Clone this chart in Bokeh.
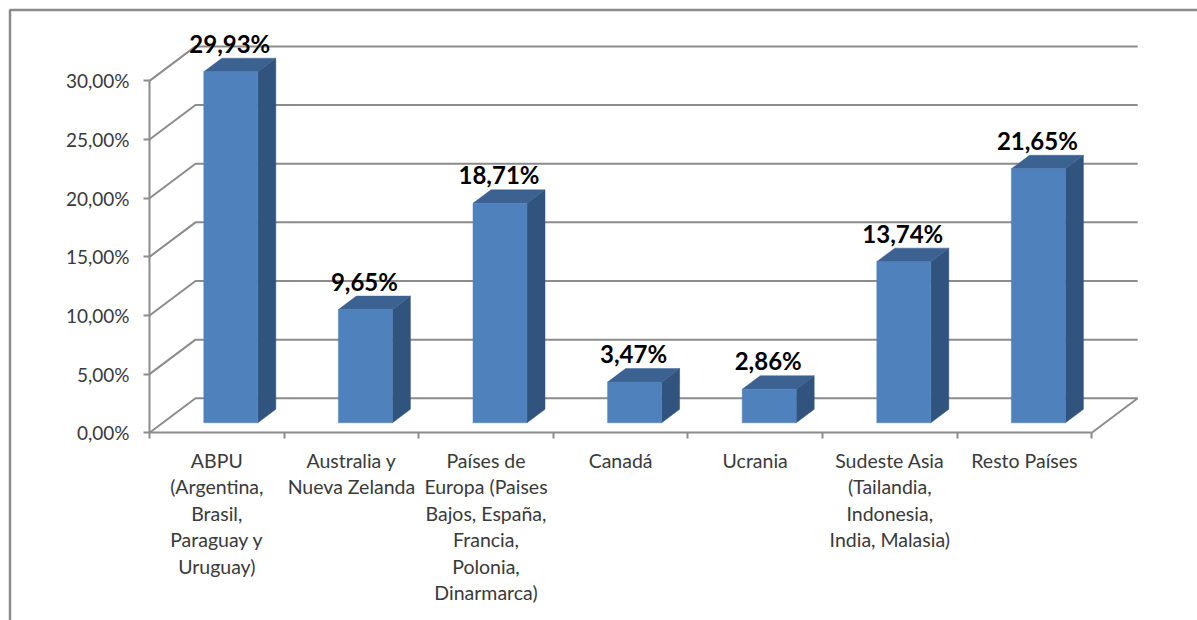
from bokeh.plotting import figure
from bokeh.embed import file_html
from bokeh.resources import INLINE
from bokeh.models import Range1d, FixedTicker, BoxAnnotation, ColumnDataSource, LinearAxis
from bokeh.core.properties import value

categories = [
    "ABPU\n(Argentina,\nBrasil,\nParaguay y\nUruguay)",
    "Australia y\nNueva Zelanda",
    "Países de\nEuropa (Paises\nBajos, España,\nFrancia,\nPolonia,\nDinarmarca)",
    "Canadá",
    "Ucrania",
    "Sudeste Asia\n(Tailandia,\nIndonesia,\nIndia, Malasia)",
    "Resto Países",
]
shares = [29.93, 9.65, 18.71, 3.47, 2.86, 13.74, 21.65]
share_labels = ["29,93%", "9,65%", "18,71%", "3,47%", "2,86%", "13,74%", "21,65%"]
y_ticks = [0, 5, 10, 15, 20, 25, 30]
y_tick_labels = ["0,00%", "5,00%", "10,00%", "15,00%", "20,00%", "25,00%", "30,00%"]

FONT = "Lato"
AXIS = "#8c8c8c"
FRONT, SIDE, TOP = "#4f81bd", "#31547e", "#3c6292"

# pixels per data unit
UX, UY = 134.6, 11.73
W, H = 1197, 620
X0, Y0 = 149.0, 432.3   # where the origin sits on the page

p = figure(width=W, height=H, output_backend="svg", toolbar_location=None,
           x_axis_type=None, y_axis_type=None,
           x_range=Range1d(-X0 / UX, (W - X0) / UX), y_range=Range1d(-(H - Y0) / UY, Y0 / UY),
           min_border_left=0, min_border_bottom=0, min_border_top=0, min_border_right=0,
           outline_line_color=None, background_fill_color="white", border_fill_color="white")
p.grid.visible = False

# wall depth and bar insets (pixels turned into data units)
WDX, WDY = 46 / UX, 34.5 / UY
BDX0, BDY0 = 14 / UX, 10 / UY
BDX1, BDY1 = 18 / UX, 13.5 / UY
BAR_W = 54 / UX

# frame of the picture
p.add_layout(BoxAnnotation(left=9.5, right=W + 20, top=9.5, bottom=H + 20,
                           left_units="canvas", right_units="canvas",
                           top_units="canvas", bottom_units="canvas",
                           fill_alpha=0, line_color="#8c8c8c", line_alpha=1, line_width=2.5,
                           level="overlay"))

# walls
n = len(categories)
xs = [[0, WDX, n + WDX] for _ in y_ticks] + [[n, n + WDX]]
ys = [[v, v + WDY, v + WDY] for v in y_ticks] + [[0, WDY]]
p.multi_line(xs, ys, line_color=AXIS, line_width=2)

# bars
fx, sx, tx = [], [], []
fy, sy, ty = [], [], []
for i, v in enumerate(shares):
    l = i + 0.5 - BAR_W / 2 + BDX0
    r = l + BAR_W
    b = BDY0
    t = v + BDY0
    fx.append([l, r, r, l]); fy.append([b, b, t, t])
    sx.append([r, r + BDX1, r + BDX1, r]); sy.append([b, b + BDY1, t + BDY1, t])
    tx.append([l, r, r + BDX1, l + BDX1]); ty.append([t, t, t + BDY1, t + BDY1])
p.patches(sx, sy, fill_color=SIDE, line_color=SIDE, line_width=0.5)
p.patches(tx, ty, fill_color=TOP, line_color=TOP, line_width=0.5)
p.patches(fx, fy, fill_color=FRONT, line_color=FRONT, line_width=0.5)

# data labels
src = ColumnDataSource(dict(x=[i + 0.5 for i in range(n)], y=shares, t=share_labels))
p.text("x", "y", "t", source=src, x_offset=13, y_offset=-38.5, text_align="center",
       text_baseline="middle", text_font=value(FONT), text_font_style="bold",
       text_font_size="24px", text_color="black")

# axes
yax = LinearAxis(ticker=FixedTicker(ticks=y_ticks, minor_ticks=[]),
                 major_label_overrides=dict(zip(y_ticks, y_tick_labels)),
                 bounds=(0, 30), axis_line_color=AXIS, axis_line_width=2,
                 major_tick_line_color=AXIS, major_tick_line_width=2,
                 major_tick_in=0, major_tick_out=6, major_label_standoff=14,
                 major_label_text_font=FONT, major_label_text_font_size="19px",
                 major_label_text_color="#3a3a3a", fixed_location=0)
p.add_layout(yax, "left")

centers = [i + 0.5 for i in range(n)]
xax = LinearAxis(ticker=FixedTicker(ticks=centers, minor_ticks=list(range(n + 1))),
                 major_label_overrides=dict(zip(centers, categories)),
                 bounds=(0, n), axis_line_color=AXIS, axis_line_width=2,
                 major_tick_in=0, major_tick_out=0, major_tick_line_color=None,
                 minor_tick_in=0, minor_tick_out=6, minor_tick_line_color=AXIS, minor_tick_line_width=2,
                 major_label_standoff=10, major_label_orientation="horizontal",
                 major_label_text_font=FONT, major_label_text_font_size="19.5px",
                 major_label_text_color="#3a3a3a", major_label_text_line_height=1.15,
                 fixed_location=0)
p.add_layout(xax, "below")

open("out.html", "w").write(file_html(p, INLINE))
